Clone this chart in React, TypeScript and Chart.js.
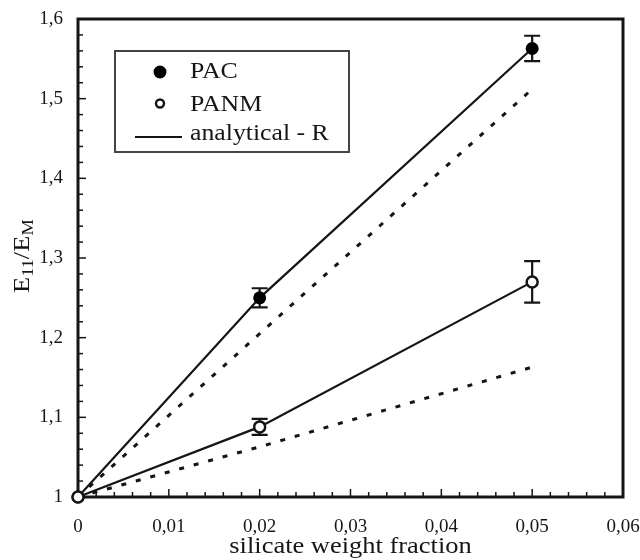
import React, { useEffect, useRef } from "react";
import { Chart, registerables } from "chart.js";

Chart.register(...registerables);

// ---- data ----
const xValues = [0, 0.02, 0.05];
const pacValues = [1, 1.25, 1.563];
const pacErrors = [0, 0.012, 0.016];
const panmValues = [1, 1.088, 1.27];
const panmErrors = [0, 0.01, 0.026];
const analyticalPac = [1, 1.25, 1.563];
const analyticalPanm = [1, 1.088, 1.27];
const dottedPac = [1, 1.205, 1.512];
const dottedPanm = [1, 1.063, 1.163];
const xTicks = [0, 0.01, 0.02, 0.03, 0.04, 0.05, 0.06];
const yTicks = [1, 1.1, 1.2, 1.3, 1.4, 1.5, 1.6];
const xTitle = "silicate weight fraction";
const legendLabels = ["PAC", "PANM", "analytical - R"];

const SERIF = "'Liberation Serif', 'Times New Roman', serif";
const INK = "#151515";
const TEXT = "#161616";

const toPts = (ys: number[]) => xValues.map((x, i) => ({ x, y: ys[i] }));
const fmt = (v: number, d: number) => (v === 0 || v === 1 ? String(v) : v.toFixed(d).replace(".", ","));

const framePlugin = {
  id: "frame",
  beforeDatasetsDraw(chart: any) {
    const { ctx, chartArea: a, scales } = chart;
    ctx.save();
    ctx.strokeStyle = INK;
    // minor/major ticks inside
    ctx.lineWidth = 1.5;
    for (let i = 0; i <= 30; i++) {
      const v = (i * 0.06) / 30;
      const px = scales.x.getPixelForValue(v);
      const len = i % 5 === 0 ? 8 : 5;
      ctx.beginPath();
      ctx.moveTo(px, a.bottom);
      ctx.lineTo(px, a.bottom - len);
      ctx.stroke();
    }
    for (let i = 0; i <= 30; i++) {
      const v = 1 + (i * 0.6) / 30;
      const py = scales.y.getPixelForValue(v);
      const len = i % 5 === 0 ? 8 : 5;
      ctx.beginPath();
      ctx.moveTo(a.left, py);
      ctx.lineTo(a.left + len, py);
      ctx.stroke();
    }
    // frame
    ctx.lineWidth = 3;
    ctx.strokeRect(a.left, a.top, a.right - a.left, a.bottom - a.top);
    // error bars
    ctx.lineWidth = 2.2;
    const drawErr = (vals: number[], errs: number[]) => {
      vals.forEach((v, i) => {
        if (!errs[i]) return;
        const px = scales.x.getPixelForValue(xValues[i]);
        const yt = scales.y.getPixelForValue(v + errs[i]);
        const yb = scales.y.getPixelForValue(v - errs[i]);
        ctx.beginPath();
        ctx.moveTo(px, yt);
        ctx.lineTo(px, yb);
        ctx.moveTo(px - 8, yt);
        ctx.lineTo(px + 8, yt);
        ctx.moveTo(px - 8, yb);
        ctx.lineTo(px + 8, yb);
        ctx.stroke();
      });
    };
    drawErr(pacValues, pacErrors);
    drawErr(panmValues, panmErrors);
    ctx.restore();
  },
  afterDraw(chart: any) {
    const { ctx, chartArea: a } = chart;
    ctx.save();
    // legend box
    ctx.fillStyle = "#fff";
    ctx.fillRect(115, 51, 234, 101);
    ctx.strokeStyle = "#444";
    ctx.lineWidth = 2;
    ctx.strokeRect(115, 51, 234, 101);
    // markers
    ctx.fillStyle = "#000";
    ctx.beginPath();
    ctx.arc(160, 72, 6.5, 0, Math.PI * 2);
    ctx.fill();
    ctx.strokeStyle = INK;
    ctx.lineWidth = 2.4;
    ctx.beginPath();
    ctx.arc(160, 103.5, 4, 0, Math.PI * 2);
    ctx.stroke();
    ctx.lineWidth = 2.2;
    ctx.beginPath();
    ctx.moveTo(135, 137);
    ctx.lineTo(182, 137);
    ctx.stroke();
    // legend text
    ctx.fillStyle = TEXT;
    ctx.font = `23px ${SERIF}`;
    ctx.textBaseline = "alphabetic";
    ctx.textAlign = "left";
    const baselines = [78, 111, 140];
    legendLabels.forEach((t, i) => {
      ctx.save();
      ctx.translate(190, baselines[i]);
      ctx.scale(1.12, 1);
      ctx.fillText(t, 0, 0);
      ctx.restore();
    });
    // x title
    ctx.save();
    ctx.font = `23px ${SERIF}`;
    ctx.textAlign = "center";
    ctx.translate((a.left + a.right) / 2, 553);
    ctx.scale(1.15, 1);
    ctx.fillText(xTitle, 0, 0);
    ctx.restore();
    // y title E11/EM
    ctx.save();
    ctx.translate(29, 293);
    ctx.rotate(-Math.PI / 2);
    ctx.scale(1.15, 1);
    ctx.textAlign = "left";
    const parts: [string, boolean][] = [["E", false], ["11", true], ["/E", false], ["M", true]];
    let cx = 0;
    parts.forEach(([t, sub]) => {
      ctx.font = sub ? `16px ${SERIF}` : `23px ${SERIF}`;
      ctx.fillText(t, cx, sub ? 4 : 0);
      cx += ctx.measureText(t).width;
    });
    ctx.restore();
    ctx.restore();
  },
};

export default function App() {
  const ref = useRef<HTMLCanvasElement | null>(null);
  useEffect(() => {
    if (!ref.current) return;
    const chart = new Chart(ref.current, {
      type: "line",
      data: {
        datasets: [
          {
            label: "PANM",
            data: toPts(panmValues),
            showLine: false,
            pointRadius: 5.5,
            pointBorderWidth: 2.5,
            pointBackgroundColor: "#fff",
            pointBorderColor: INK,
            order: 1,
            clip: false,
          },
          {
            label: "PAC",
            data: toPts(pacValues),
            showLine: false,
            pointRadius: 6.5,
            pointBorderWidth: 0,
            pointBackgroundColor: "#000",
            pointBorderColor: "#000",
            order: 2,
            clip: false,
          },
          {
            label: "analytical - R (PAC)",
            data: toPts(analyticalPac),
            borderColor: INK,
            borderWidth: 2.2,
            pointRadius: 0,
            order: 3,
            clip: false,
          },
          {
            label: "analytical - R (PANM)",
            data: toPts(analyticalPanm),
            borderColor: INK,
            borderWidth: 2.2,
            pointRadius: 0,
            order: 4,
            clip: false,
          },
          {
            label: "dotted PAC",
            data: toPts(dottedPac),
            borderColor: INK,
            borderWidth: 3,
            borderDash: [5, 10],
            pointRadius: 0,
            order: 5,
            clip: false,
          },
          {
            label: "dotted PANM",
            data: toPts(dottedPanm),
            borderColor: INK,
            borderWidth: 3,
            borderDash: [5, 10],
            pointRadius: 0,
            order: 6,
            clip: false,
          },
        ],
      },
      options: {
        animation: false,
        responsive: false,
        devicePixelRatio: 1,
        layout: { padding: { top: 19, right: 17, left: 0, bottom: 0 } },
        plugins: { legend: { display: false }, tooltip: { enabled: false } },
        scales: {
          x: {
            type: "linear",
            min: 0,
            max: 0.06,
            grid: { display: false, drawTicks: false },
            border: { display: false },
            afterBuildTicks: (s: any) => {
              s.ticks = xTicks.map((v) => ({ value: v }));
            },
            afterFit: (s: any) => {
              s.height = 63;
              s.paddingLeft = 0;
              s.paddingRight = 0;
            },
            ticks: {
              autoSkip: false,
              maxRotation: 0,
              padding: 19,
              color: TEXT,
              font: { family: SERIF, size: 19 },
              callback: (v: any) => fmt(Number(v), 2),
            },
          },
          y: {
            type: "linear",
            min: 1,
            max: 1.6,
            grid: { display: false, drawTicks: false },
            border: { display: false },
            afterBuildTicks: (s: any) => {
              s.ticks = yTicks.map((v) => ({ value: v }));
            },
            afterFit: (s: any) => {
              s.width = 78;
              s.paddingTop = 0;
              s.paddingBottom = 0;
            },
            ticks: {
              autoSkip: false,
              padding: 15,
              color: TEXT,
              font: { family: SERIF, size: 19 },
              callback: (v: any) => fmt(Number(v), 1),
            },
          },
        },
      },
      plugins: [framePlugin],
    } as any);
    return () => chart.destroy();
  }, []);
  return (
    <div style={{ position: "absolute", left: 0, top: 0, width: 640, height: 560, background: "#fff" }}>
      <canvas ref={ref} width={640} height={560} style={{ width: 640, height: 560 }} />
    </div>
  );
}
